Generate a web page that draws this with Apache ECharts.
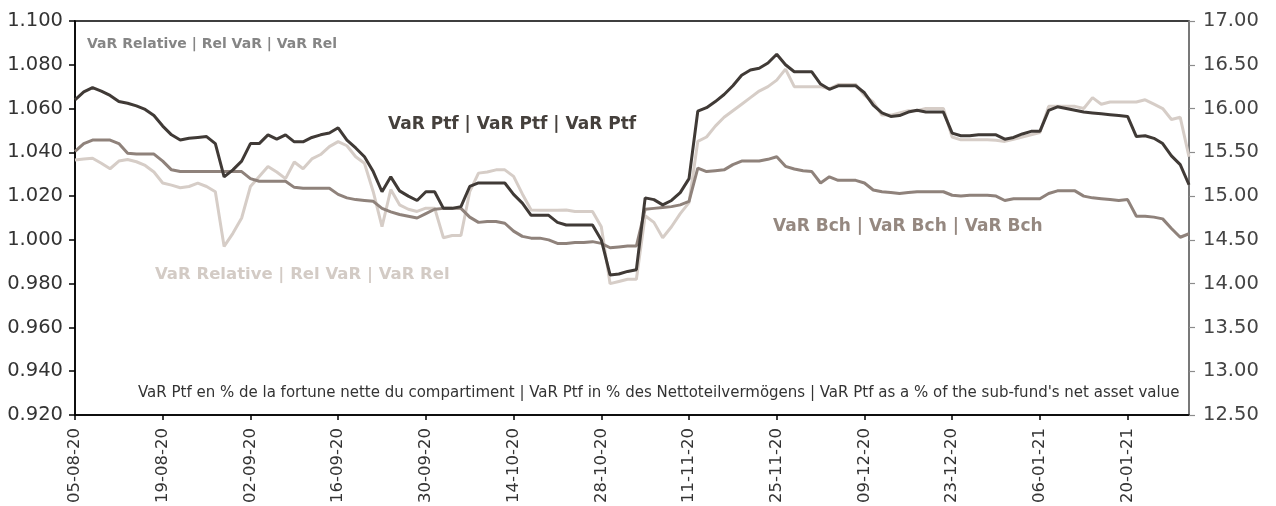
<!DOCTYPE html>
<html>
<head>
<meta charset="utf-8">
<script src="https://cdn.jsdelivr.net/npm/echarts@6/dist/echarts.min.js"></script>
<style>
html,body{margin:0;padding:0;background:#fff;}
#chart{width:1276px;height:506px;}
</style>
</head>
<body>
<div id="chart"></div>
<script>
const dates = [
'05-08-20','06-08-20','07-08-20','10-08-20','11-08-20','12-08-20','13-08-20','14-08-20','17-08-20','18-08-20',
'19-08-20','20-08-20','21-08-20','24-08-20','25-08-20','26-08-20','27-08-20','28-08-20','31-08-20','01-09-20',
'02-09-20','03-09-20','04-09-20','07-09-20','08-09-20','09-09-20','10-09-20','11-09-20','14-09-20','15-09-20',
'16-09-20','17-09-20','18-09-20','21-09-20','22-09-20','23-09-20','24-09-20','25-09-20','28-09-20','29-09-20',
'30-09-20','01-10-20','02-10-20','05-10-20','06-10-20','07-10-20','08-10-20','09-10-20','12-10-20','13-10-20',
'14-10-20','15-10-20','16-10-20','19-10-20','20-10-20','21-10-20','22-10-20','23-10-20','26-10-20','27-10-20',
'28-10-20','29-10-20','30-10-20','02-11-20','03-11-20','04-11-20','05-11-20','06-11-20','09-11-20','10-11-20',
'11-11-20','12-11-20','13-11-20','16-11-20','17-11-20','18-11-20','19-11-20','20-11-20','23-11-20','24-11-20',
'25-11-20','26-11-20','27-11-20','30-11-20','01-12-20','02-12-20','03-12-20','04-12-20','07-12-20','08-12-20',
'09-12-20','10-12-20','11-12-20','14-12-20','15-12-20','16-12-20','17-12-20','18-12-20','21-12-20','22-12-20',
'23-12-20','24-12-20','25-12-20','28-12-20','29-12-20','30-12-20','31-12-20','01-01-21','04-01-21','05-01-21',
'06-01-21','07-01-21','08-01-21','11-01-21','12-01-21','13-01-21','14-01-21','15-01-21','18-01-21','19-01-21',
'20-01-21','21-01-21','22-01-21','25-01-21','26-01-21','27-01-21','28-01-21','29-01-21'
];

// VaR Ptf (right axis, %)
const varPtf = [
16.10,16.19,16.24,16.20,16.15,16.08,16.06,16.03,15.99,15.92,
15.80,15.70,15.64,15.66,15.67,15.68,15.60,15.22,15.30,15.40,
15.60,15.60,15.70,15.65,15.70,15.62,15.62,15.67,15.70,15.72,
15.78,15.64,15.55,15.45,15.28,15.05,15.22,15.06,15.00,14.95,
15.05,15.05,14.86,14.86,14.88,15.11,15.15,15.15,15.15,15.15,
15.02,14.92,14.78,14.78,14.78,14.70,14.67,14.67,14.67,14.67,
14.50,14.10,14.11,14.14,14.16,14.98,14.96,14.90,14.95,15.04,
15.20,15.97,16.01,16.08,16.16,16.26,16.38,16.44,16.46,16.52,
16.62,16.50,16.42,16.42,16.42,16.28,16.22,16.26,16.26,16.26,
16.18,16.04,15.95,15.91,15.92,15.96,15.98,15.96,15.96,15.96,
15.72,15.69,15.69,15.70,15.70,15.70,15.65,15.67,15.71,15.74,
15.74,15.98,16.02,16.00,15.98,15.96,15.95,15.94,15.93,15.92,
15.91,15.68,15.69,15.66,15.60,15.46,15.36,15.13
];

// VaR Bch (right axis, %)
const varBch = [
15.51,15.60,15.64,15.64,15.64,15.60,15.49,15.48,15.48,15.48,
15.40,15.30,15.28,15.28,15.28,15.28,15.28,15.28,15.28,15.28,
15.20,15.17,15.17,15.17,15.17,15.10,15.09,15.09,15.09,15.09,
15.02,14.98,14.96,14.95,14.94,14.86,14.82,14.79,14.77,14.75,
14.80,14.85,14.86,14.86,14.86,14.76,14.70,14.71,14.71,14.69,
14.60,14.54,14.52,14.52,14.50,14.46,14.46,14.47,14.47,14.48,
14.46,14.41,14.42,14.43,14.43,14.85,14.86,14.87,14.88,14.90,
14.94,15.32,15.28,15.29,15.30,15.36,15.40,15.40,15.40,15.42,
15.45,15.34,15.31,15.29,15.28,15.15,15.22,15.18,15.18,15.18,
15.15,15.07,15.05,15.04,15.03,15.04,15.05,15.05,15.05,15.05,
15.01,15.00,15.01,15.01,15.01,15.00,14.95,14.97,14.97,14.97,
14.97,15.03,15.06,15.06,15.06,15.00,14.98,14.97,14.96,14.95,
14.96,14.77,14.77,14.76,14.74,14.63,14.53,14.57
];

// VaR Relative (left axis)
const varRel = [
1.0365,1.0370,1.0373,1.0350,1.0325,1.0360,1.0367,1.0357,1.0340,1.0310,
1.0260,1.0250,1.0238,1.0244,1.0259,1.0244,1.0220,0.9970,1.0030,1.0100,
1.0244,1.0290,1.0335,1.0310,1.0280,1.0356,1.0325,1.0370,1.0390,1.0426,
1.0449,1.0430,1.0380,1.0350,1.0220,1.0060,1.0230,1.0160,1.0140,1.0130,
1.0145,1.0145,1.0010,1.0020,1.0020,1.0220,1.0305,1.0310,1.0320,1.0320,
1.0290,1.0210,1.0137,1.0135,1.0135,1.0135,1.0137,1.0130,1.0130,1.0130,
1.0060,0.9800,0.9810,0.9820,0.9820,1.0110,1.0080,1.0010,1.0060,1.0120,
1.0170,1.0450,1.0470,1.0520,1.0560,1.0590,1.0620,1.0650,1.0680,1.0700,
1.0730,1.0780,1.0700,1.0700,1.0700,1.0700,1.0690,1.0710,1.0710,1.0710,
1.0660,1.0630,1.0570,1.0570,1.0580,1.0590,1.0590,1.0600,1.0600,1.0600,
1.0470,1.0457,1.0457,1.0457,1.0457,1.0455,1.0450,1.0460,1.0470,1.0480,
1.0490,1.0610,1.0610,1.0610,1.0610,1.0600,1.0650,1.0620,1.0630,1.0630,
1.0630,1.0630,1.0640,1.0620,1.0600,1.0550,1.0560,1.0380
];

const labelRelSmall = 'VaR Relative | Rel VaR | VaR Rel';
const labelPtf = 'VaR Ptf | VaR Ptf | VaR Ptf';
const labelBch = 'VaR Bch | VaR Bch | VaR Bch';
const labelRel = 'VaR Relative | Rel VaR | VaR Rel';
const labelNote = "VaR Ptf en % de la fortune nette du compartiment | VaR Ptf in % des Nettoteilvermögens | VaR Ptf as a % of the sub-fund's net asset value";

const FONT = '"DejaVu Sans", "Liberation Sans", Arial, sans-serif';
const chart = echarts.init(document.getElementById('chart'), null, {renderer: 'canvas'});

chart.setOption({
  animation: false,
  backgroundColor: '#ffffff',
  grid: {left: 75, right: 87, top: 21, bottom: 91, show: true, borderColor: '#000', borderWidth: 1.5, backgroundColor: 'transparent'},
  xAxis: {
    type: 'category',
    data: dates,
    boundaryGap: false,
    axisLine: {lineStyle: {color: '#000', width: 1.5}},
    axisTick: {show: true, interval: 9, length: 5, lineStyle: {color: '#000', width: 1.5}},
    axisLabel: {interval: 9, rotate: 90, fontSize: 16.5, color: '#333', fontFamily: FONT, margin: 13},
    splitLine: {show: false}
  },
  yAxis: [
    {
      type: 'value', position: 'left', min: 0.92, max: 1.10, interval: 0.02,
      axisLine: {show: true, lineStyle: {color: '#000', width: 1.5}},
      axisTick: {show: true, length: 6, lineStyle: {color: '#000', width: 1.5}},
      axisLabel: {formatter: v => v.toFixed(3), fontSize: 19.5, color: '#333', fontFamily: FONT, margin: 12},
      splitLine: {show: false}
    },
    {
      type: 'value', position: 'right', min: 12.5, max: 17, interval: 0.5,
      axisLine: {show: true, lineStyle: {color: '#8c8c8c', width: 1.5}},
      axisTick: {show: true, length: 6, lineStyle: {color: '#8c8c8c', width: 1.2}},
      axisLabel: {formatter: v => v.toFixed(2), fontSize: 19.5, color: '#444', fontFamily: FONT, margin: 14},
      splitLine: {show: false}
    }
  ],
  series: [
    {name: 'VaR Relative', type: 'line', yAxisIndex: 0, data: varRel, symbol: 'none',
     lineStyle: {color: '#d6cdc7', width: 3}, z: 2},
    {name: 'VaR Bch', type: 'line', yAxisIndex: 1, data: varBch, symbol: 'none',
     lineStyle: {color: '#8f827b', width: 3}, z: 3},
    {name: 'VaR Ptf', type: 'line', yAxisIndex: 1, data: varPtf, symbol: 'none',
     lineStyle: {color: '#403a36', width: 3}, z: 4}
  ],
  graphic: [
    {type: 'text', left: 87, top: 37, style: {text: labelRelSmall, font: 'bold 14px ' + FONT, fill: '#858585'}},
    {type: 'text', left: 388, top: 116, style: {text: labelPtf, font: 'bold 17px ' + FONT, fill: '#45403c'}},
    {type: 'text', left: 773, top: 218, style: {text: labelBch, font: 'bold 17px ' + FONT, fill: '#958880'}},
    {type: 'text', left: 155, top: 266, style: {text: labelRel, font: 'bold 16.5px ' + FONT, fill: '#d3cbc5'}},
    {type: 'text', left: 138, top: 386, style: {text: labelNote, font: '15px ' + FONT, fill: '#333'}}
  ]
});
</script>
</body>
</html>
